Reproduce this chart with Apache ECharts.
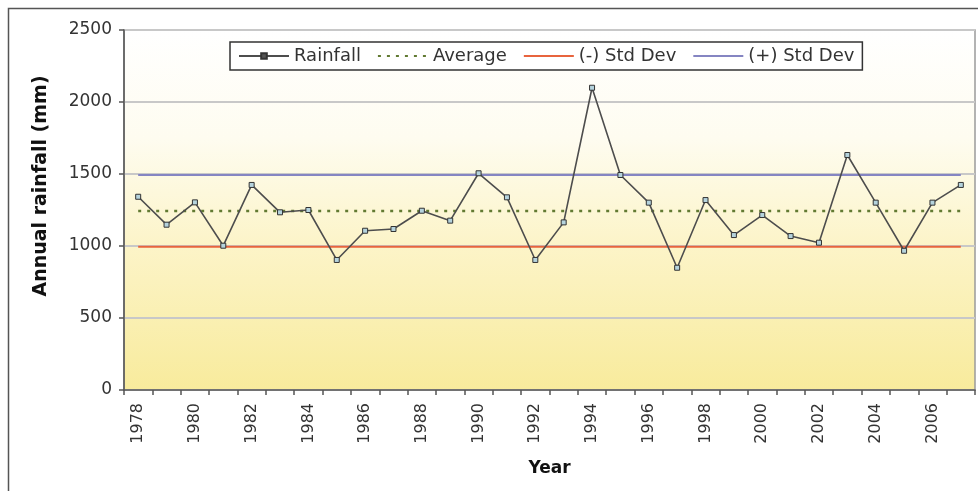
<!DOCTYPE html>
<html>
<head>
<meta charset="utf-8">
<script src="https://cdn.jsdelivr.net/npm/echarts@6/dist/echarts.min.js"></script>
<style>
html,body{margin:0;padding:0;background:#fff;}
#chart{width:978px;height:491px;}
</style>
</head>
<body>
<div id="chart"></div>
<script>
const years = ['1978','1979','1980','1981','1982','1983','1984','1985','1986','1987','1988','1989','1990','1991','1992','1993','1994','1995','1996','1997','1998','1999','2000','2001','2002','2003','2004','2005','2006','2007'];
const rainfall = [1342,1148,1303,1002,1424,1234,1250,903,1106,1118,1245,1176,1505,1338,903,1164,2099,1493,1301,849,1319,1076,1215,1069,1023,1632,1301,967,1301,1424];
const averageValue = 1243;
const minusStdValue = 995;
const plusStdValue = 1493;
const seriesNames = ['Rainfall','Average','(-) Std Dev','(+) Std Dev'];
const yTicks = {min:0, max:2500, interval:500};

const FONT = 'DejaVu Sans';
const chart = echarts.init(document.getElementById('chart'), null, {renderer:'canvas'});
chart.setOption({
  animation:false,
  backgroundColor:'#ffffff',
  graphic:[{
    type:'rect', left:6, top:6, silent:true, z:-1,
    shape:{x:0,y:0,width:1000,height:500},
    style:{fill:'none', stroke:'#555', lineWidth:1.5}
  }],
  grid:{
    left:124, right:3, top:30, bottom:101,
    show:true, borderColor:'#9a9a9a', borderWidth:1.5,
    backgroundColor:{type:'linear',x:0,y:0,x2:0,y2:1,colorStops:[
      {offset:0,color:'#ffffff'},{offset:0.3,color:'#fefcf0'},{offset:0.6,color:'#fcf4c8'},{offset:1,color:'#f8eb9c'}]}
  },
  legend:{
    left:230, top:42,
    padding:[5,8], itemGap:16, itemWidth:50, itemHeight:7,
    borderColor:'#333', borderWidth:1.5, backgroundColor:'#ffffff',
    textStyle:{fontFamily:FONT, fontSize:18, color:'#333'},
    data:[
      {name:seriesNames[0], itemStyle:{color:'#555', borderColor:'#333'}},
      {name:seriesNames[1], itemStyle:{opacity:0}},
      {name:seriesNames[2], itemStyle:{opacity:0}},
      {name:seriesNames[3], itemStyle:{opacity:0}}
    ]
  },
  xAxis:{
    type:'category', data:years, boundaryGap:true,
    name:'Year', nameLocation:'middle', nameGap:70,
    nameTextStyle:{fontFamily:FONT, fontSize:17, fontWeight:'bold', color:'#111'},
    axisLine:{show:true, lineStyle:{color:'#555', width:1.5}},
    axisTick:{show:true, interval:0, length:5, lineStyle:{color:'#555', width:1.5}},
    axisLabel:{interval:1, rotate:90, margin:13, fontFamily:FONT, fontSize:16, color:'#333'},
    splitLine:{show:false}
  },
  yAxis:{
    type:'value', min:yTicks.min, max:yTicks.max, interval:yTicks.interval,
    name:'Annual rainfall (mm)', nameLocation:'middle', nameGap:73,
    nameTextStyle:{fontFamily:FONT, fontSize:19, fontWeight:'bold', color:'#111', padding:[0,0,0,48]},
    axisLine:{show:true, lineStyle:{color:'#555', width:1.5}},
    axisTick:{show:true, length:5, lineStyle:{color:'#555', width:1.5}},
    axisLabel:{margin:12, fontFamily:FONT, fontSize:17, color:'#333', formatter:(v)=>String(v)},
    splitLine:{show:true, lineStyle:{color:'#c8c8c8', width:2}}
  },
  series:[
    {name:seriesNames[0], type:'line', data:rainfall, z:5,
     symbol:'rect', symbolSize:5, showSymbol:true,
     lineStyle:{color:'#4d4d4d', width:1.6},
     itemStyle:{color:'#b5d3dd', borderColor:'#333', borderWidth:1}},
    {name:seriesNames[1], type:'line', data:years.map(()=>averageValue), symbol:'none', z:3,
     lineStyle:{color:'#627a32', width:2.5, type:[3,6]}, itemStyle:{color:'#627a32'}},
    {name:seriesNames[2], type:'line', data:years.map(()=>minusStdValue), symbol:'none', z:3,
     lineStyle:{color:'#e8643e', width:2}, itemStyle:{color:'#e8643e'}},
    {name:seriesNames[3], type:'line', data:years.map(()=>plusStdValue), symbol:'none', z:3,
     lineStyle:{color:'#8585c2', width:2}, itemStyle:{color:'#8585c2'}}
  ]
});
</script>
</body>
</html>
